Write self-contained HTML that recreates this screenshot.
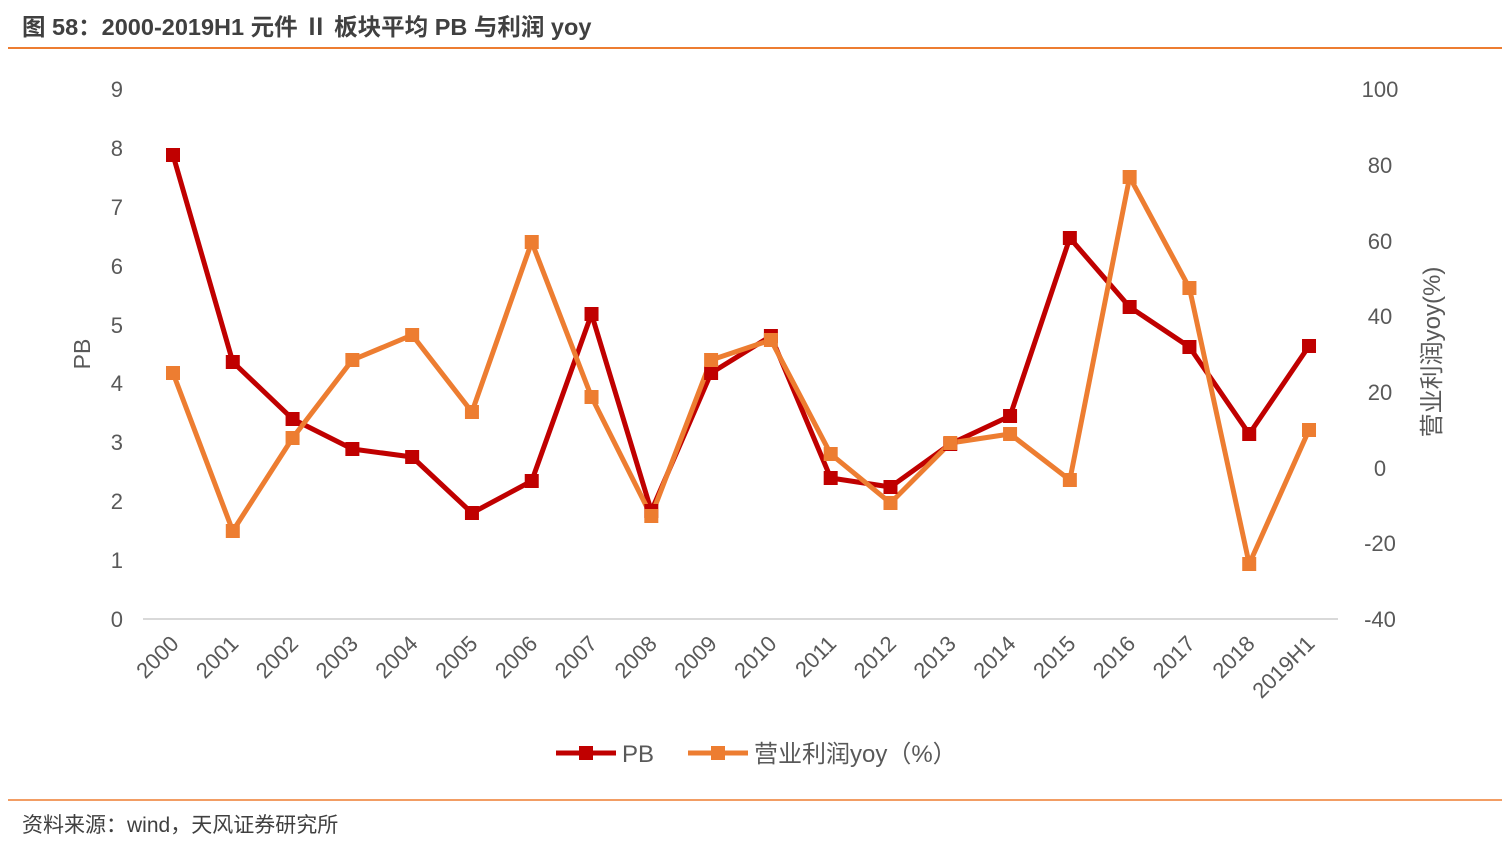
<!DOCTYPE html>
<html><head><meta charset="utf-8"><style>
body{margin:0;background:#fff;width:1510px;height:850px;overflow:hidden;font-family:"Liberation Sans","Noto Sans CJK SC",sans-serif}
</style></head><body>
<svg width="1510" height="850" xmlns="http://www.w3.org/2000/svg" font-family="Liberation Sans, Noto Sans CJK SC, sans-serif">
<text x="22" y="35" font-size="23.5" font-weight="bold" fill="#404040">图 58：2000-2019H1 元件 Ⅱ 板块平均 PB 与利润 yoy</text>
<line x1="8" y1="48" x2="1502" y2="48" stroke="#ED7D31" stroke-width="2"/>
<line x1="8" y1="800" x2="1502" y2="800" stroke="#ED7D31" stroke-width="1.5"/>
<text x="22" y="832" font-size="21" fill="#404040">资料来源：wind，天风证券研究所</text>
<line x1="143" y1="619" x2="1338" y2="619" stroke="#d9d9d9" stroke-width="2"/>
<g font-size="22" fill="#595959" text-anchor="end">
<text x="123" y="627">0</text><text x="123" y="568">1</text><text x="123" y="509">2</text><text x="123" y="450">3</text><text x="123" y="391">4</text><text x="123" y="333">5</text><text x="123" y="274">6</text><text x="123" y="215">7</text><text x="123" y="156">8</text><text x="123" y="97">9</text>
</g>
<g font-size="22" fill="#595959" text-anchor="middle">
<text x="1380" y="627">-40</text><text x="1380" y="551">-20</text><text x="1380" y="476">0</text><text x="1380" y="400">20</text><text x="1380" y="324">40</text><text x="1380" y="249">60</text><text x="1380" y="173">80</text><text x="1380" y="97">100</text>
</g>
<text transform="translate(90,354) rotate(-90)" font-size="23" fill="#595959" text-anchor="middle">PB</text>
<text transform="translate(1440,352) rotate(-90)" font-size="24" fill="#595959" text-anchor="middle">营业利润yoy(%)</text>
<g font-size="22" fill="#595959" text-anchor="end" id="xl"></g>
<polyline id="pb" fill="none" stroke="#C00000" stroke-width="5" stroke-linejoin="round"/>
<polyline id="yo" fill="none" stroke="#ED7D31" stroke-width="5" stroke-linejoin="round"/>
<g id="m"></g>
<line x1="556" y1="753" x2="616" y2="753" stroke="#C00000" stroke-width="5"/>
<rect x="579" y="746" width="14" height="14" fill="#C00000"/>
<text x="622" y="762" font-size="24" fill="#595959">PB</text>
<line x1="688" y1="753" x2="748" y2="753" stroke="#ED7D31" stroke-width="5"/>
<rect x="711" y="746" width="14" height="14" fill="#ED7D31"/>
<text x="754" y="762" font-size="24" fill="#595959">营业利润yoy（%）</text>
</svg>
<script>
var ns="http://www.w3.org/2000/svg";
var pb=[155,362,419,449,457,513,481,314,511,373,336,478,487,444,416,238,307,347,434,346];
var yo=[373,531,438,360,335,412,242,397,516,360,340,454,503,443,434,480,177,288,564,430];
var lab=["2000","2001","2002","2003","2004","2005","2006","2007","2008","2009","2010","2011","2012","2013","2014","2015","2016","2017","2018","2019H1"];
var a=[],b=[],m=document.getElementById("m"),xl=document.getElementById("xl");
for(var i=0;i<20;i++){var x=173+i*59.79;a.push(x+","+pb[i]);b.push(x+","+yo[i]);
var t=document.createElementNS(ns,"text");t.setAttribute("transform","translate("+(x+7)+",645) rotate(-45)");t.textContent=lab[i];xl.appendChild(t);}
document.getElementById("pb").setAttribute("points",a.join(" "));
document.getElementById("yo").setAttribute("points",b.join(" "));
function sq(x,y,c){var r=document.createElementNS(ns,"rect");r.setAttribute("x",x-7);r.setAttribute("y",y-7);r.setAttribute("width",14);r.setAttribute("height",14);r.setAttribute("fill",c);m.appendChild(r);}
for(var i=0;i<20;i++)sq(173+i*59.79,pb[i],"#C00000");
for(var i=0;i<20;i++)sq(173+i*59.79,yo[i],"#ED7D31");
</script>
</body></html>
